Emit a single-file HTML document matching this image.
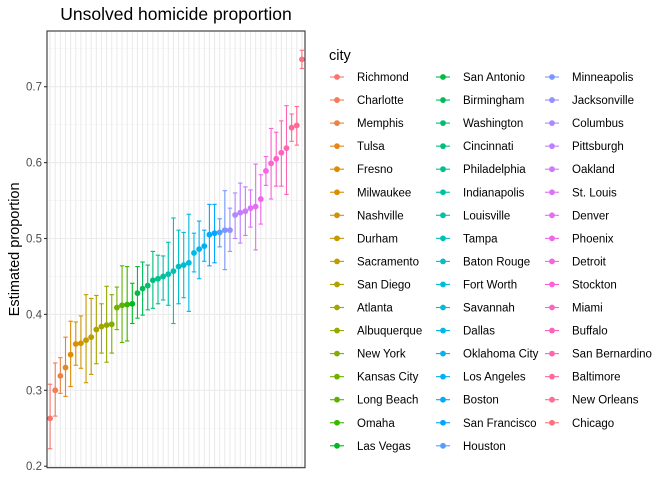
<!DOCTYPE html>
<html><head><meta charset="utf-8"><style>
body{margin:0;background:#fff;font-family:"Liberation Sans",Arial,sans-serif}
svg text{font-family:"Liberation Sans",Arial,sans-serif}
</style></head><body>
<svg id="c" width="672" height="480" xmlns="http://www.w3.org/2000/svg"></svg>
<script>
const cities=["Richmond","Charlotte","Memphis","Tulsa","Fresno","Milwaukee","Nashville","Durham","Sacramento","San Diego","Atlanta","Albuquerque","New York","Kansas City","Long Beach","Omaha","Las Vegas","San Antonio","Birmingham","Washington","Cincinnati","Philadelphia","Indianapolis","Louisville","Tampa","Baton Rouge","Fort Worth","Savannah","Dallas","Oklahoma City","Los Angeles","Boston","San Francisco","Houston","Minneapolis","Jacksonville","Columbus","Pittsburgh","Oakland","St. Louis","Denver","Phoenix","Detroit","Stockton","Miami","Buffalo","San Bernardino","Baltimore","New Orleans","Chicago"];
const estimates=[0.263,0.300,0.319,0.330,0.347,0.361,0.362,0.366,0.370,0.380,0.384,0.386,0.387,0.409,0.412,0.413,0.414,0.428,0.434,0.438,0.445,0.447,0.450,0.453,0.457,0.463,0.465,0.468,0.481,0.486,0.490,0.505,0.507,0.508,0.511,0.511,0.531,0.534,0.536,0.540,0.542,0.552,0.589,0.599,0.605,0.613,0.619,0.646,0.649,0.736];
const lower=[0.223,0.266,0.296,0.292,0.305,0.333,0.329,0.310,0.321,0.335,0.349,0.337,0.349,0.380,0.363,0.365,0.388,0.395,0.399,0.406,0.408,0.414,0.419,0.412,0.388,0.414,0.422,0.404,0.456,0.447,0.470,0.464,0.468,0.489,0.459,0.483,0.500,0.494,0.504,0.515,0.485,0.519,0.570,0.552,0.569,0.569,0.558,0.628,0.623,0.724];
const upper=[0.308,0.336,0.343,0.370,0.391,0.390,0.398,0.426,0.421,0.425,0.414,0.437,0.426,0.436,0.464,0.463,0.441,0.463,0.469,0.465,0.483,0.478,0.477,0.495,0.527,0.511,0.508,0.532,0.507,0.523,0.511,0.545,0.545,0.526,0.563,0.540,0.560,0.573,0.568,0.564,0.598,0.584,0.608,0.645,0.640,0.655,0.675,0.664,0.674,0.748];
const yTicks=[0.2,0.3,0.4,0.5,0.6,0.7];
const yTickLabels=["0.2","0.3","0.4","0.5","0.6","0.7"];

const svg=document.getElementById('c');const NS="http://www.w3.org/2000/svg";
function mk(t,a,p){const e=document.createElementNS(NS,t);for(const k in a)e.setAttribute(k,a[k]);(p||svg).appendChild(e);return e;}
const L=47,R=305,T=31,B=467.7;
const y=v=>86.7+(0.7-v)*759;
const step=(R-L)/(cities.length-1+1.2);
const x=i=>L+step*0.6+i*step;
function hcl(h,c,l){h=h*Math.PI/180;const Lv=l;const u=c*Math.cos(h),v=c*Math.sin(h);
const Xn=95.047,Yn=100,Zn=108.883;const un=4*Xn/(Xn+15*Yn+3*Zn),vn=9*Yn/(Xn+15*Yn+3*Zn);
const Y=Lv>8?Yn*Math.pow((Lv+16)/116,3):Yn*Lv/903.3;const up=u/(13*Lv)+un,vp=v/(13*Lv)+vn;
const X=9*Y*up/(4*vp),Z=-X/3-5*Y+3*Y/vp;const xr=X/100,yr=Y/100,zr=Z/100;
let r=3.2406*xr-1.5372*yr-0.4986*zr,g=-0.9689*xr+1.8758*yr+0.0415*zr,b=0.0557*xr-0.2040*yr+1.0570*zr;
const f=q=>{q=q<=0.0031308?12.92*q:1.055*Math.pow(q,1/2.4)-0.055;return Math.round(Math.max(0,Math.min(1,q))*255);};
return `rgb(${f(r)},${f(g)},${f(b)})`;}
const n=cities.length;const col=i=>hcl(15+360*i/n,100,65);

mk('rect',{x:L,y:T,width:R-L,height:B-T,fill:'#fff',});
const grid=mk('g',{});
for(let v=0.25;v<0.8;v+=0.1){const yy=y(v);if(yy>T&&yy<B)mk('line',{x1:L,x2:R,y1:yy,y2:yy,stroke:'#f2f2f2','stroke-width':0.6},grid);}
yTicks.forEach(v=>mk('line',{x1:L,x2:R,y1:y(v),y2:y(v),stroke:'#ebebeb','stroke-width':1.1},grid));
for(let i=0;i<n;i++)mk('line',{x1:x(i),x2:x(i),y1:T,y2:B,stroke:'#ebebeb','stroke-width':1.1},grid);
for(let i=0;i<n;i++){const g=mk('g',{});


const c=col(i),xx=x(i);
mk('line',{x1:xx,x2:xx,y1:y(lower[i]),y2:y(upper[i]),stroke:c,'stroke-width':1.1},g);
mk('line',{x1:xx-2.2,x2:xx+2.2,y1:y(lower[i]),y2:y(lower[i]),stroke:c,'stroke-width':1.1},g);
mk('line',{x1:xx-2.2,x2:xx+2.2,y1:y(upper[i]),y2:y(upper[i]),stroke:c,'stroke-width':1.1},g);
mk('circle',{cx:xx,cy:y(estimates[i]),r:2.9,fill:c},g);}
mk('rect',{x:L,y:T,width:R-L,height:B-T,fill:'none',stroke:'#333','stroke-width':1.1,});
const ax=mk('g',{});
yTicks.forEach((v,i)=>{mk('line',{x1:L-3,x2:L,y1:y(v),y2:y(v),stroke:'#333','stroke-width':1.1},ax);
const t=mk('text',{x:L-5,y:y(v)+4,'text-anchor':'end','font-size':11.5,fill:'#4d4d4d'},ax);t.textContent=yTickLabels[i];});
const yt=mk('text',{x:19,y:(T+B)/2,'text-anchor':'middle','font-size':14.5,fill:'#000',transform:`rotate(-90 19 ${(T+B)/2})`,});yt.textContent="Estimated proportion";
const tt=mk('text',{x:(L+R)/2,y:20,'text-anchor':'middle','font-size':17.5,fill:'#000',});tt.textContent="Unsolved homicide proportion";
const lg=mk('g',{});
const lt=mk('text',{x:329,y:60,'font-size':14.5,fill:'#000'},lg);lt.textContent="city";
const colX=[335,441,550];
for(let i=0;i<n;i++){const cI=Math.floor(i/17),r=i%17;const ky=77+r*23.05,kx=colX[cI];
const e=mk('g',{},lg);


mk('line',{x1:kx-5,x2:kx+9,y1:ky,y2:ky,stroke:col(i),'stroke-width':1.1},e);
mk('circle',{cx:kx+2,cy:ky,r:2.9,fill:col(i)},e);
const t=mk('text',{x:kx+22,y:ky+4,'font-size':11.5,fill:'#000'},e);t.textContent=cities[i];}
</script>
</body></html>
